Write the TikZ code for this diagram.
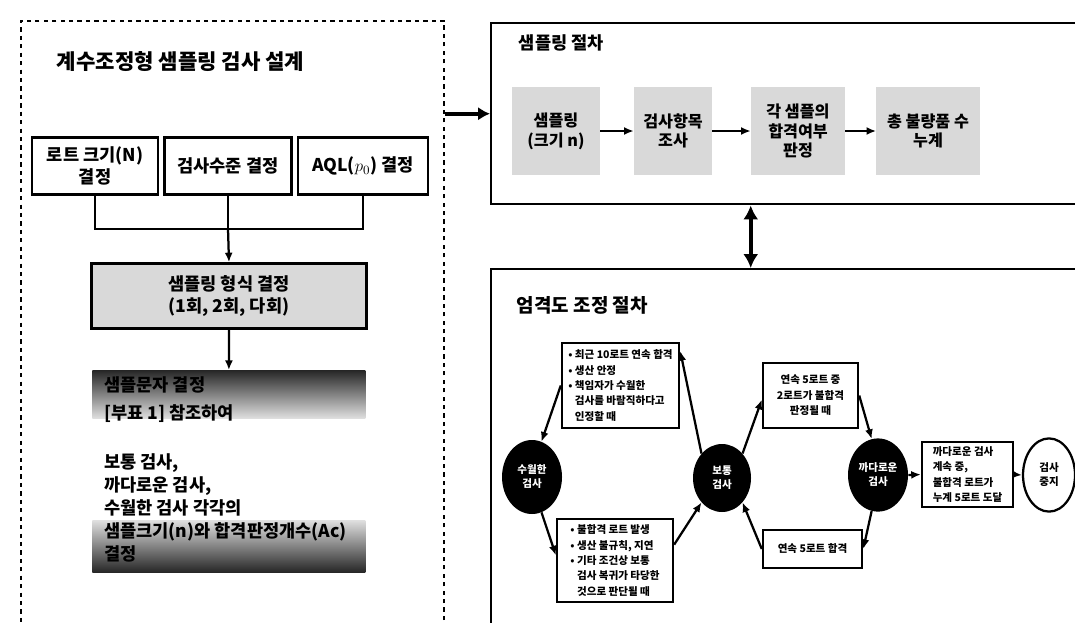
\documentclass[tikz,border=0pt]{standalone}
\usepackage{fontspec}
\setmainfont{Noto Sans CJK KR}
\usetikzlibrary{arrows.meta,positioning,calc,shapes.geometric}

\begin{document}
\begin{tikzpicture}[x=0.25mm, y=-0.25mm, every node/.style={font=\bfseries},
  panel/.style={draw, line width=1.6pt, anchor=north west, inner sep=0pt},
  inbox/.style={draw, line width=1.6pt, inner sep=1pt, align=center,
    font=\bfseries\fontsize{12.5}{15.5}\selectfont},
  graybox/.style={fill=gray!30, inner sep=1pt, align=center,
    font=\bfseries\fontsize{11.5}{14}\selectfont},
  condbox/.style={draw, line width=1.6pt, align=left, inner sep=2pt,
    font=\bfseries\fontsize{7.5}{11}\selectfont},
  state/.style={ellipse, fill=black, text=white, inner sep=0pt, align=center,
    font=\bfseries\fontsize{7.5}{10}\selectfont},
  link/.style={line width=1.6pt},
  flow/.style={line width=1.6pt, -{Latex[length=2.4mm,width=2mm]}},
]
\useasboundingbox (0,0) rectangle (1075,622);
\clip (0,0) rectangle (1075,622);

% ======================================================================
% LEFT : DESIGN OF THE SAMPLING INSPECTION
% ======================================================================
\node[panel, dashed, line width=1.1pt, minimum width=10.58cm, minimum height=16cm]
  (design) at (20,20) {};
\node[anchor=west, font=\bfseries\fontsize{15}{17}\selectfont] (dtitle) at (52,62)
  {계수조정형 샘플링 검사 설계};

% three decisions
\node[inbox, minimum width=3.15cm, minimum height=1.43cm] (lot) at (95,166) {로트 크기(N)\\결정};
\node[inbox, minimum width=3.18cm, minimum height=1.43cm] (lvl) at (228,166) {검사수준 결정};
\node[inbox, minimum width=3.25cm, minimum height=1.43cm] (aql) at (363,166) {AQL($p_0$) 결정};

\coordinate (join) at ($(lvl.south)+(0,33)$);
\draw[link] (lot.south) |- (join) -| (aql.south);
\draw[link] (lvl.south) -- (join);

\node[inbox, fill=gray!30, minimum width=6.88cm, minimum height=1.63cm] (samp) at (229,296)
  {샘플링 형식 결정\\(1회, 2회, 다회)};
\draw[flow] (join) -- (samp.north);

% shaded bands behind the table texts
\node[anchor=north west, inner sep=0pt, minimum width=6.83cm, minimum height=1.2cm,
      top color=black!85, bottom color=gray!25] (band1) at (92,370) {};
\node[anchor=north west, inner sep=0pt, minimum width=6.83cm, minimum height=1.3cm,
      top color=gray!25, bottom color=black!85] (band2) at (92,520) {};
\draw[flow] (samp.south) -- (band1.north);

\node[anchor=north west, inner sep=0pt, align=left,
      font=\bfseries\fontsize{12.5}{16.4}\selectfont] (tbl) at (104,376)
  {샘플문자 결정\\[4pt]{[}부표 1{]} 참조하여};
\node[anchor=north west, inner sep=0pt, align=left,
      font=\bfseries\fontsize{12.5}{16.4}\selectfont] (rules) at (104,453)
  {보통 검사,\\까다로운 검사,\\수월한 검사 각각의\\샘플크기(n)와 합격판정개수(Ac)\\결정};

% ======================================================================
% TOP RIGHT : SAMPLING PROCEDURE
% ======================================================================
\node[panel, minimum width=15cm, minimum height=4.53cm] (sproc) at (490,22) {};
\node[anchor=west, font=\bfseries\fontsize{12.5}{14}\selectfont] (stitle) at (514,43) {샘플링 절차};

\node[graybox, minimum width=2.2cm,  minimum height=2.18cm] (sa) at (556,131) {샘플링\\(크기 n)};
\node[graybox, minimum width=1.95cm, minimum height=2.18cm] (sb) at (673,131) {검사항목\\조사};
\node[graybox, minimum width=2.35cm, minimum height=2.18cm] (sc) at (798,131) {각 샘플의\\합격여부\\판정};
\node[graybox, minimum width=2.58cm, minimum height=2.18cm] (sd) at (928,131) {총 불량품 수\\누계};
\draw[flow] (sa.east) -- (sb.west);
\draw[flow] (sb.east) -- (sc.west);
\draw[flow] (sc.east) -- (sd.west);

\draw[line width=3pt, -{Latex[length=3mm,width=3.4mm]}] (design.east |- sproc.west) -- (sproc.west);

% ======================================================================
% BOTTOM RIGHT : SWITCHING BETWEEN SEVERITIES
% ======================================================================
\node[panel, minimum width=15cm, minimum height=10cm] (adj) at (490,268) {};
\node[anchor=west, font=\bfseries\fontsize{13.5}{15}\selectfont] (atitle) at (512,305) {엄격도 조정 절차};

\draw[line width=2.8pt, {Latex[length=3.5mm,width=3.8mm]}-{Latex[length=3.5mm,width=3.8mm]}]
  (sc.west |- sproc.south) -- (sc.west |- adj.north);

% states
\node[state, minimum width=1.5cm,  minimum height=1.85cm] (lc) at (532,477) {수월한\\검사};
\node[state, minimum width=1.45cm, minimum height=1.7cm]  (mc) at (722,478) {보통\\검사};
\node[state, minimum width=1.5cm,  minimum height=1.83cm] (rc) at (878,475) {까다로운\\검사};
\node[ellipse, draw, line width=1.6pt, inner sep=0pt, align=center,
      minimum width=1.3cm, minimum height=1.83cm,
      font=\bfseries\fontsize{7.5}{10}\selectfont] (stop) at (1049,475) {검사\\중지};

% switching conditions
\node[condbox, minimum width=2.93cm, minimum height=2.13cm] (tl) at (620.5,385.5)
  {• 최근 10로트 연속 합격\\• 생산 안정\\• 책임자가 수월한\\\phantom{• }검사를 바람직하다고\\\phantom{• }인정할 때};
\node[condbox, minimum width=2.9cm, minimum height=2.08cm] (bl) at (615,560.5)
  {• 불합격 로트 발생\\• 생산 불규칙, 지연\\• 기타 조건상 보통\\\phantom{• }검사 복귀가 타당한\\\phantom{• }것으로 판단될 때};
\node[condbox, align=center, minimum width=2.38cm, minimum height=1.63cm] (tr) at (810.5,395.5)
  {연속 5로트 중\\2로트가 불합격\\판정될 때};
\node[condbox, align=center, minimum width=2.48cm, minimum height=0.95cm] (br) at (812.5,549)
  {연속 5로트 합격};
\node[condbox, minimum width=2.28cm, minimum height=1.63cm] (fin) at (967.5,474.5)
  {까다로운 검사\\계속 중,\\불합격 로트가\\누계 5로트 도달};

\draw[flow] (mc.130) -- (tl.30);
\draw[flow] (tl.west) -- (lc.75);
\draw[flow] (lc.-75) -- (bl.175);
\draw[flow] (bl.15) -- (mc.-130);
\draw[flow] (mc.50) -- (tr.185);
\draw[flow] (tr.east) -- (rc.100);
\draw[flow] (rc.-100) -- (br.east);
\draw[flow] (br.west) -- (mc.-50);
\draw[flow] (rc.east) -- (fin.west);
\draw[flow] (fin.east) -- (stop.west);

\end{tikzpicture}
\end{document}
